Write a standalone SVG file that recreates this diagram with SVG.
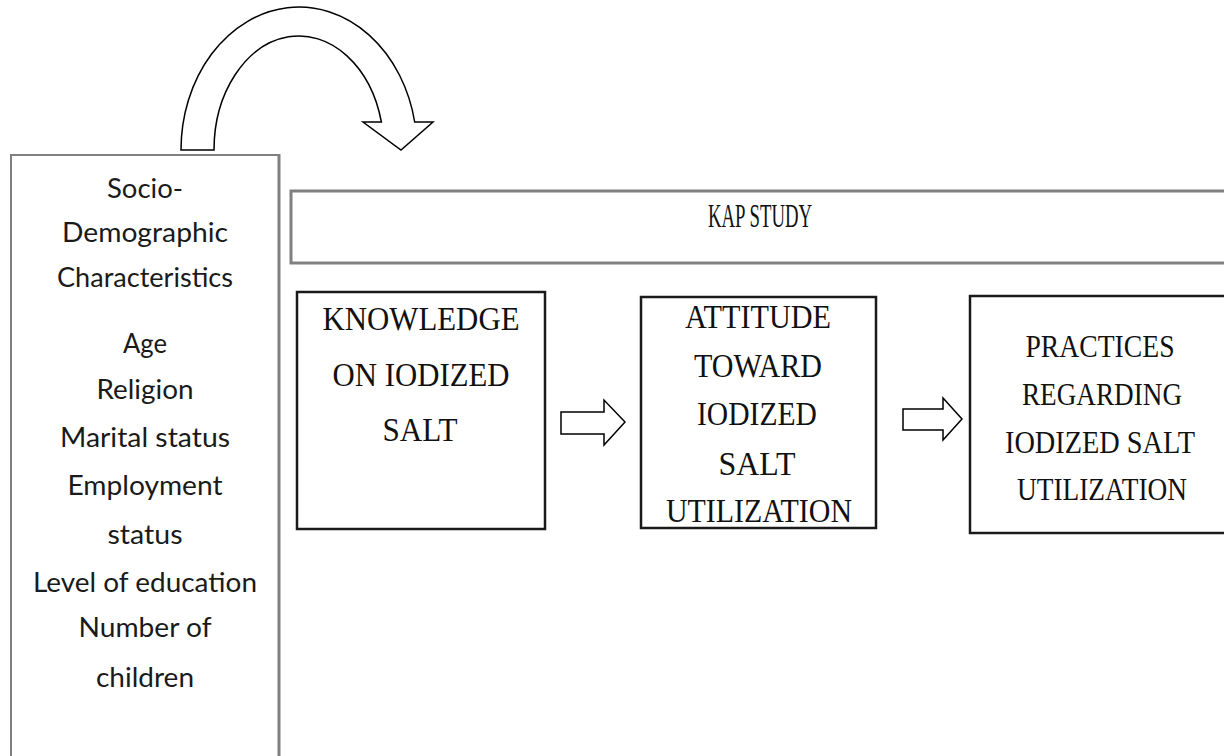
<svg xmlns="http://www.w3.org/2000/svg" width="1224" height="756" viewBox="0 0 1224 756">
<style>
.sans{font-family:Lato,"Liberation Sans",sans-serif;font-size:27px;fill:#1a1a1a;text-anchor:middle}
.serif{font-family:"Liberation Serif","Times New Roman",serif;font-size:34px;fill:#111;text-anchor:middle}
.box{fill:#fff;stroke:#1a1a1a;stroke-width:2.5}
.gbox{fill:#fff;stroke:#808080;stroke-width:3}
.blk{fill:#fff;stroke:#000;stroke-width:1.5;stroke-linejoin:miter}
</style>
<rect width="1224" height="756" fill="#fff"/>
<g id="connectors">
<path class="blk" d="M181,150 A118,143 0 0 1 414.7,122 L433,122 L401,150 L363,122 L381.4,122 A85,114 0 0 0 214,150 Z"/>
<path class="blk" d="M561,412 L604,412 L604,400 L625,422 L604,445 L604,434 L561,434 Z"/>
<path class="blk" d="M903,409 L943,409 L943,398 L962,419 L943,440 L943,430 L903,430 Z"/>
</g>
<g id="socio">
<rect x="11" y="155" width="268" height="620" fill="#fff" stroke="#808080" stroke-width="2"/>
<line x1="279" y1="154" x2="279" y2="756" stroke="#808080" stroke-width="3"/>
<text class="sans" x="145" y="198" textLength="76" lengthAdjust="spacingAndGlyphs">Socio-</text>
<text class="sans" x="145" y="242" textLength="166" lengthAdjust="spacingAndGlyphs">Demographic</text>
<text class="sans" x="145" y="287" textLength="176" lengthAdjust="spacingAndGlyphs">Characteristics</text>
<text class="sans" x="145" y="353" textLength="44" lengthAdjust="spacingAndGlyphs">Age</text>
<text class="sans" x="145" y="399" textLength="97" lengthAdjust="spacingAndGlyphs">Religion</text>
<text class="sans" x="145" y="447" textLength="170" lengthAdjust="spacingAndGlyphs">Marital status</text>
<text class="sans" x="145" y="495" textLength="155" lengthAdjust="spacingAndGlyphs">Employment</text>
<text class="sans" x="145" y="544" textLength="75" lengthAdjust="spacingAndGlyphs">status</text>
<text class="sans" x="145" y="592" textLength="224" lengthAdjust="spacingAndGlyphs">Level of education</text>
<text class="sans" x="145" y="637" textLength="133" lengthAdjust="spacingAndGlyphs">Number of</text>
<text class="sans" x="145" y="687" textLength="98" lengthAdjust="spacingAndGlyphs">children</text>
</g>
<g id="kap">
<rect class="gbox" x="291" y="191" width="960" height="72"/>
<text class="serif" x="760" y="227" textLength="104" lengthAdjust="spacingAndGlyphs">KAP STUDY</text>
</g>
<g id="knowledge">
<rect class="box" x="297" y="292" width="248" height="237"/>
<text class="serif" x="421" y="330" textLength="197" lengthAdjust="spacingAndGlyphs">KNOWLEDGE</text>
<text class="serif" x="421" y="386" textLength="177" lengthAdjust="spacingAndGlyphs">ON IODIZED</text>
<text class="serif" x="420" y="441" textLength="75" lengthAdjust="spacingAndGlyphs">SALT</text>
</g>
<g id="attitude">
<rect class="box" x="641" y="297" width="235" height="231"/>
<text class="serif" x="758" y="328" textLength="146" lengthAdjust="spacingAndGlyphs">ATTITUDE</text>
<text class="serif" x="758" y="377" textLength="128" lengthAdjust="spacingAndGlyphs">TOWARD</text>
<text class="serif" x="757" y="425" textLength="120" lengthAdjust="spacingAndGlyphs">IODIZED</text>
<text class="serif" x="757" y="475" textLength="77" lengthAdjust="spacingAndGlyphs">SALT</text>
<text class="serif" x="759" y="522" textLength="186" lengthAdjust="spacingAndGlyphs">UTILIZATION</text>
</g>
<g id="practices">
<rect class="box" x="970" y="296" width="280" height="237"/>
<text class="serif" x="1100" y="357" style="font-size:32px" textLength="149" lengthAdjust="spacingAndGlyphs">PRACTICES</text>
<text class="serif" x="1102" y="405" style="font-size:32px" textLength="160" lengthAdjust="spacingAndGlyphs">REGARDING</text>
<text class="serif" x="1100" y="453" style="font-size:32px" textLength="190" lengthAdjust="spacingAndGlyphs">IODIZED SALT</text>
<text class="serif" x="1102" y="500" style="font-size:32px" textLength="170" lengthAdjust="spacingAndGlyphs">UTILIZATION</text>
</g>
</svg>
